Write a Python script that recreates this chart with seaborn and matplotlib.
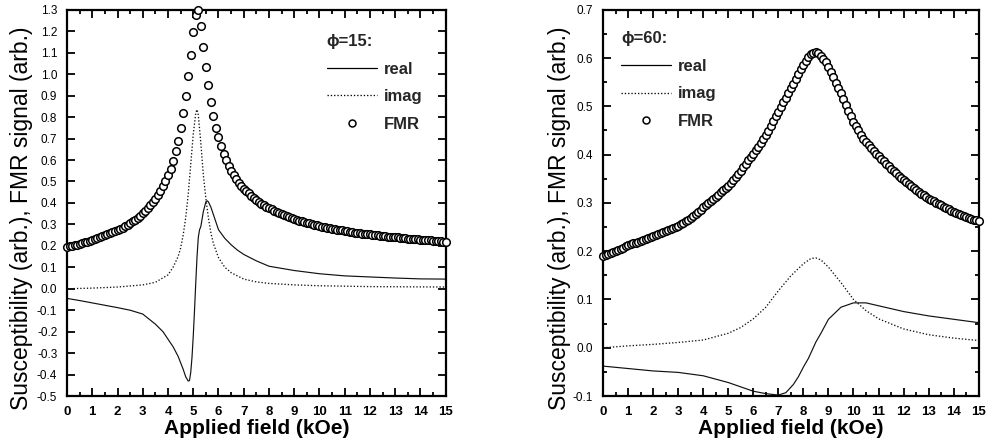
import numpy as np
import pandas as pd
import matplotlib
matplotlib.use("Agg")
import matplotlib.pyplot as plt
from matplotlib.lines import Line2D
from matplotlib.ticker import MultipleLocator, FormatStrFormatter
import seaborn as sns

# ---------------- data ----------------
fmr_field = np.round(np.arange(0, 151) * 0.1, 1)

fmr_15 = [0.195, 0.198, 0.200, 0.203, 0.206, 0.209, 0.213, 0.216, 0.220, 0.224,
          0.228, 0.232, 0.236, 0.240, 0.244, 0.249, 0.253, 0.258, 0.263, 0.268,
          0.274, 0.279, 0.285, 0.292, 0.299, 0.306, 0.314, 0.322, 0.331, 0.341,
          0.352, 0.363, 0.376, 0.390, 0.405, 0.420, 0.437, 0.455, 0.477, 0.500,
          0.528, 0.560, 0.597, 0.640, 0.690, 0.750, 0.820, 0.900, 0.990, 1.090,
          1.195, 1.275, 1.300, 1.225, 1.125, 1.035, 0.950, 0.870, 0.805, 0.750,
          0.705, 0.665, 0.630, 0.598, 0.571, 0.548, 0.528, 0.510, 0.494, 0.480,
          0.467, 0.455, 0.444, 0.433, 0.423, 0.414, 0.405, 0.397, 0.390, 0.383,
          0.376, 0.370, 0.364, 0.358, 0.353, 0.348, 0.343, 0.338, 0.334, 0.330,
          0.326, 0.322, 0.318, 0.314, 0.311, 0.308, 0.305, 0.302, 0.299, 0.296,
          0.293, 0.290, 0.288, 0.285, 0.283, 0.280, 0.278, 0.276, 0.274, 0.272,
          0.270, 0.268, 0.266, 0.264, 0.262, 0.261, 0.259, 0.257, 0.256, 0.254,
          0.253, 0.251, 0.250, 0.249, 0.247, 0.246, 0.245, 0.243, 0.242, 0.241,
          0.240, 0.239, 0.238, 0.237, 0.235, 0.234, 0.233, 0.232, 0.231, 0.230,
          0.229, 0.228, 0.227, 0.226, 0.225, 0.224, 0.223, 0.222, 0.221, 0.220,
          0.218]

fmr_60 = [0.191, 0.193, 0.195, 0.197, 0.199, 0.201, 0.203, 0.205, 0.207, 0.210,
          0.212, 0.214, 0.216, 0.218, 0.220, 0.222, 0.224, 0.226, 0.228, 0.230,
          0.232, 0.234, 0.236, 0.238, 0.240, 0.242, 0.244, 0.246, 0.249, 0.251,
          0.253, 0.256, 0.259, 0.262, 0.265, 0.269, 0.273, 0.277, 0.282, 0.286,
          0.291, 0.295, 0.299, 0.304, 0.308, 0.313, 0.317, 0.322, 0.327, 0.331,
          0.336, 0.342, 0.348, 0.354, 0.360, 0.367, 0.374, 0.381, 0.388, 0.395,
          0.402, 0.409, 0.416, 0.424, 0.432, 0.440, 0.449, 0.459, 0.469, 0.479,
          0.489, 0.499, 0.508, 0.518, 0.527, 0.537, 0.547, 0.557, 0.567, 0.577,
          0.586, 0.594, 0.602, 0.608, 0.611, 0.612, 0.610, 0.605, 0.599, 0.591,
          0.582, 0.571, 0.560, 0.549, 0.538, 0.527, 0.515, 0.503, 0.491, 0.479,
          0.468, 0.459, 0.450, 0.441, 0.433, 0.426, 0.420, 0.414, 0.408, 0.402,
          0.397, 0.392, 0.386, 0.381, 0.376, 0.371, 0.366, 0.361, 0.356, 0.352,
          0.347, 0.343, 0.339, 0.335, 0.331, 0.327, 0.323, 0.319, 0.316, 0.312,
          0.309, 0.306, 0.303, 0.300, 0.298, 0.295, 0.292, 0.289, 0.287, 0.284,
          0.281, 0.279, 0.277, 0.275, 0.273, 0.271, 0.269, 0.267, 0.265, 0.264,
          0.262]

real15_field = [0, 0.5, 1, 1.5, 2, 2.5, 3, 3.5, 3.8, 4, 4.2, 4.4, 4.5, 4.6, 4.7,
                4.8, 4.85, 4.9, 4.95, 5.0, 5.05, 5.1, 5.15, 5.2, 5.25, 5.3, 5.4,
                5.5, 5.55, 5.6, 5.7, 5.8, 5.9, 6, 6.25, 6.5, 6.75, 7, 7.5, 8, 8.5,
                9, 10, 11, 12, 13, 14, 15]
real15 = [-0.045, -0.055, -0.066, -0.077, -0.088, -0.100, -0.118, -0.165, -0.200,
          -0.235, -0.270, -0.315, -0.345, -0.375, -0.410, -0.430, -0.428, -0.390,
          -0.320, -0.220, -0.100, 0.030, 0.150, 0.240, 0.275, 0.290, 0.360, 0.405,
          0.410, 0.405, 0.380, 0.345, 0.310, 0.275, 0.235, 0.205, 0.180, 0.160,
          0.130, 0.105, 0.095, 0.085, 0.070, 0.060, 0.055, 0.050, 0.046, 0.045]

imag15_field = [0, 1, 2, 3, 3.5, 4, 4.2, 4.4, 4.5, 4.6, 4.7, 4.8, 4.9, 5.0, 5.1,
                5.15, 5.2, 5.3, 5.4, 5.5, 5.6, 5.7, 5.8, 6, 6.25, 6.5, 7, 7.5, 8,
                9, 10, 12, 15]
imag15 = [0.000, 0.003, 0.008, 0.018, 0.030, 0.065, 0.100, 0.150, 0.190, 0.250,
          0.330, 0.440, 0.580, 0.720, 0.820, 0.835, 0.810, 0.680, 0.530, 0.420,
          0.330, 0.260, 0.210, 0.145, 0.100, 0.075, 0.045, 0.032, 0.025, 0.018,
          0.014, 0.010, 0.008]

real60_field = [0, 1, 2, 3, 4, 5, 6, 6.5, 7, 7.3, 7.6, 7.8, 8, 8.2, 8.5, 8.7, 9,
                9.5, 10, 10.5, 11, 12, 13, 14, 15]
real60 = [-0.038, -0.043, -0.048, -0.051, -0.058, -0.072, -0.090, -0.095, -0.098,
          -0.093, -0.076, -0.060, -0.040, -0.022, 0.012, 0.030, 0.059, 0.084,
          0.093, 0.093, 0.087, 0.075, 0.066, 0.059, 0.052]

imag60_field = [0, 1, 2, 3, 4, 5, 5.5, 6, 6.5, 7, 7.5, 8, 8.3, 8.5, 8.7, 9, 9.5,
                10, 10.5, 11, 12, 13, 14, 15]
imag60 = [0.000, 0.004, 0.007, 0.011, 0.016, 0.030, 0.042, 0.060, 0.084, 0.118,
          0.149, 0.174, 0.185, 0.186, 0.182, 0.167, 0.135, 0.100, 0.077, 0.060,
          0.039, 0.027, 0.020, 0.015]

panels = [
    dict(title="\u03d5=15:", fmr=fmr_15, rx=real15_field, ry=real15,
         ix=imag15_field, iy=imag15, ylim=(-0.5, 1.3), ymajor=0.1, yminor=None,
         rect=[0.068, 0.110, 0.384, 0.868], leg=(0.686, 0.937), ylab_x=-0.09),
    dict(title="\u03d5=60:", fmr=fmr_60, rx=real60_field, ry=real60,
         ix=imag60_field, iy=imag60, ylim=(-0.1, 0.7), ymajor=0.1, yminor=0.05,
         rect=[0.6116, 0.110, 0.381, 0.868], leg=(0.048, 0.944), ylab_x=-0.085),
]

# ---------------- figure ----------------
sns.set_theme(style="ticks")
plt.rcParams["font.family"] = ["Liberation Sans", "DejaVu Sans"]

fig = plt.figure(figsize=(9.86, 4.45), dpi=100)
dotted = (0, (1, 1.5))

for p in panels:
    ax = fig.add_axes(p["rect"])
    df_real = pd.DataFrame({"field": p["rx"], "value": p["ry"]})
    df_imag = pd.DataFrame({"field": p["ix"], "value": p["iy"]})
    df_fmr = pd.DataFrame({"field": fmr_field, "value": p["fmr"]})

    sns.lineplot(data=df_real, x="field", y="value", ax=ax, color="#111111",
                 linewidth=0.85, estimator=None, sort=False)
    sns.lineplot(data=df_imag, x="field", y="value", ax=ax, color="#111111",
                 linewidth=0.95, linestyle=dotted, estimator=None, sort=False)
    sns.scatterplot(data=df_fmr, x="field", y="value", ax=ax, marker="o",
                    s=30, facecolor="white", edgecolor="black",
                    linewidth=1.1, zorder=3)
    for coll in ax.collections:
        coll.set_clip_on(False)

    ax.set_xlim(0, 15)
    ax.set_ylim(*p["ylim"])
    ax.xaxis.set_major_locator(MultipleLocator(1))
    ax.xaxis.set_minor_locator(MultipleLocator(0.5))
    ax.yaxis.set_major_locator(MultipleLocator(p["ymajor"]))
    if p["yminor"]:
        ax.yaxis.set_minor_locator(MultipleLocator(p["yminor"]))
    ax.yaxis.set_major_formatter(FormatStrFormatter("%.1f"))
    ax.tick_params(which="both", direction="in", top=True, right=True,
                   color="black", width=1.3)
    ax.tick_params(which="major", length=5.5, labelcolor="black")
    ax.tick_params(axis="x", which="major", pad=7, labelsize=9.5)
    ax.tick_params(axis="y", which="major", pad=7, labelsize=8.5)
    ax.tick_params(which="minor", length=2.8)
    for lab in ax.get_xticklabels():
        lab.set_fontweight("bold")
    for sp in ax.spines.values():
        sp.set_linewidth(1.6)
        sp.set_color("black")

    ax.set_xlabel("Applied field (kOe)", fontsize=15, fontweight="bold",
                  labelpad=1, color="black")
    ax.set_ylabel("Susceptibility (arb.), FMR signal (arb.)", fontsize=16.5,
                  color="black")
    ax.yaxis.set_label_coords(p["ylab_x"], 0.46)
    ax.grid(False)

    handles = [
        Line2D([], [], color="black", linewidth=0.9),
        Line2D([], [], color="black", linewidth=0.95, linestyle=dotted),
        Line2D([], [], color="black", marker="o", linestyle="none",
               markersize=5, markerfacecolor="white", markeredgewidth=1.1),
    ]
    leg = ax.legend(handles, ["real", "imag", "FMR"], title=p["title"],
                    loc="upper left", bbox_to_anchor=p["leg"], frameon=False,
                    handlelength=3.0, handletextpad=0.4, labelspacing=0.75,
                    borderaxespad=0.0, borderpad=0.0,
                    prop={"size": 12, "weight": "bold"},
                    title_fontproperties={"size": 12, "weight": "bold"})
    leg._legend_box.align = "left"

fig.savefig("out.png", dpi=100, facecolor="white")
